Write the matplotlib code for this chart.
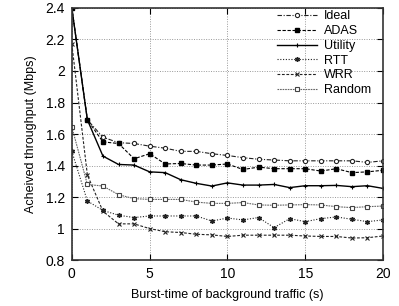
import numpy as np
import matplotlib
matplotlib.use("Agg")
import matplotlib.pyplot as plt

plt.rcParams['font.family'] = ['Liberation Sans', 'DejaVu Sans']

# burst-time of background traffic (s)
burst = list(range(0, 21))

ideal = [2.40, 1.69, 1.58, 1.545, 1.54, 1.523, 1.51, 1.49, 1.49, 1.475, 1.464,
         1.45, 1.44, 1.435, 1.43, 1.43, 1.43, 1.43, 1.43, 1.42, 1.43]
adas = [2.40, 1.69, 1.55, 1.54, 1.443, 1.475, 1.41, 1.413, 1.403, 1.403, 1.41,
        1.375, 1.39, 1.38, 1.38, 1.38, 1.365, 1.38, 1.355, 1.36, 1.37]
utility = [2.40, 1.69, 1.46, 1.407, 1.403, 1.36, 1.355, 1.31, 1.287, 1.27, 1.29,
           1.276, 1.276, 1.28, 1.26, 1.272, 1.272, 1.274, 1.266, 1.272, 1.255]
rtt = [1.49, 1.175, 1.115, 1.085, 1.07, 1.08, 1.08, 1.08, 1.08, 1.048, 1.067,
       1.055, 1.07, 1.006, 1.063, 1.044, 1.063, 1.074, 1.059, 1.044, 1.055]
wrr = [2.17, 1.34, 1.11, 1.03, 1.03, 1.0, 0.98, 0.975, 0.964, 0.96, 0.95,
       0.958, 0.958, 0.958, 0.958, 0.953, 0.95, 0.95, 0.94, 0.942, 0.953]
rand = [1.645, 1.28, 1.27, 1.215, 1.19, 1.185, 1.185, 1.185, 1.168, 1.16, 1.16,
        1.165, 1.15, 1.148, 1.15, 1.152, 1.15, 1.139, 1.133, 1.139, 1.143]

fig = plt.figure(figsize=(3.99, 3.06), dpi=100)
ax = fig.add_axes([0.180, 0.150, 0.780, 0.824])

ax.plot(burst, ideal, color='#222222', lw=0.8, ls=(0, (4, 1.5, 1, 1.5)),
        marker='o', ms=3, mfc='white', mew=0.8, label='Ideal')
ax.plot(burst, adas, color='black', lw=0.8, ls=(0, (3, 1.5)),
        marker='s', ms=3, mfc='black', label='ADAS')
ax.plot(burst, utility, color='black', lw=1.0, ls='-',
        marker='+', ms=3.5, mew=0.8, label='Utility')
ax.plot(burst, rtt, color='#222222', lw=0.8, ls=(0, (1, 1.5)),
        marker=(6, 2, 0), ms=3.5, mew=1.0, label='RTT')
ax.plot(burst, wrr, color='#222222', lw=0.8, ls=(0, (2.5, 1.5)),
        marker='x', ms=3, mew=0.8, label='WRR')
ax.plot(burst, rand, color='#666666', lw=0.8, ls=(0, (1.5, 0.8)),
        marker='s', ms=3, mfc='white', mec='#444444', mew=0.8, label='Random')

ax.set_xlim(0, 20)
ax.set_ylim(0.8, 2.4)
ax.set_xticks([0, 5, 10, 15, 20])
ax.set_yticks([0.8, 1.0, 1.2, 1.4, 1.6, 1.8, 2.0, 2.2, 2.4])
ax.set_yticklabels(['0.8', '1', '1.2', '1.4', '1.6', '1.8', '2', '2.2', '2.4'])
ax.tick_params(direction='in', length=4, width=0.8, top=True, right=True,
               labelsize=10, pad=5)
ax.grid(True, color='#999999', ls=(0, (1, 1.5)), lw=0.7)
for s in ax.spines.values():
    s.set_linewidth(1.2)
    s.set_color('#333333')

ax.set_xlabel('Burst-time of background traffic (s)', fontsize=9, labelpad=6)
ax.set_ylabel('Acheived throughput (Mbps)', fontsize=9, labelpad=6)

leg = ax.legend(loc='upper right', bbox_to_anchor=(0.97, 1.0), frameon=False,
                fontsize=9, handlelength=3.2, handletextpad=0.6,
                labelspacing=0.22, borderaxespad=0.0, borderpad=0.2)

fig.savefig('out.png', dpi=100)
